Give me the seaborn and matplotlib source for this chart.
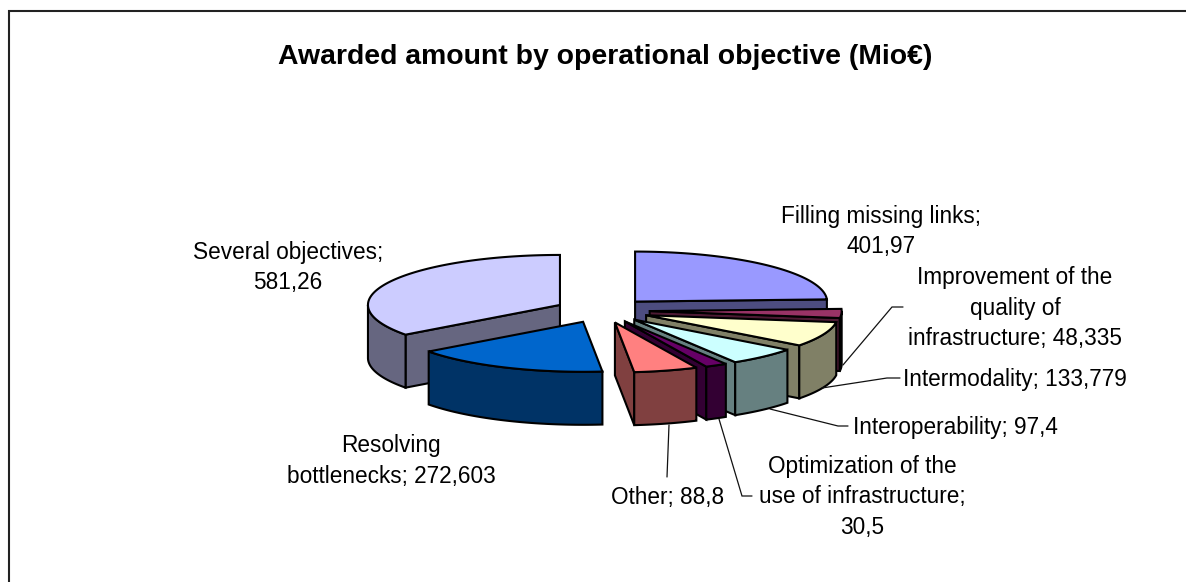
import numpy as np
import matplotlib
matplotlib.use("Agg")
import matplotlib.pyplot as plt
import seaborn as sns

# ---- data ----
title = "Awarded amount by operational objective (Mio€)"
categories = ["Filling missing links", "Improvement of the quality of infrastructure",
              "Intermodality", "Interoperability",
              "Optimization of the use of infrastructure", "Other",
              "Resolving bottlenecks", "Several objectives"]
values = [401.97, 48.335, 133.779, 97.4, 30.5, 88.8, 272.603, 581.26]
value_labels = ["401,97", "48,335", "133,779", "97,4", "30,5", "88,8", "272,603", "581,26"]
top_colors = ["#9999FF", "#993366", "#FFFFCC", "#CCFFFF", "#660066", "#FF8080", "#0066CC", "#CCCCFF"]

# ---- label layout: wrapped lines, centre x, first-line y ----
label_lines = [
    ["Filling missing links;", "401,97"],
    ["Improvement of the", "quality of", "infrastructure; 48,335"],
    ["Intermodality; 133,779"],
    ["Interoperability; 97,4"],
    ["Optimization of the", "use of infrastructure;", "30,5"],
    ["Other; 88,8"],
    ["Resolving", "bottlenecks; 272,603"],
    ["Several objectives;", "581,26"],
]
label_x = [881, 1015, 1015, 955, 862, 668, 391, 288]
label_y = [214, 275, 377, 425, 464, 495, 443, 250]
leaders = [
    None,
    [(843, 365), (892, 307), (903, 307)],
    [(822, 388), (887, 378), (900, 378)],
    [(770, 409), (838, 426), (848, 426)],
    [(719, 419), (742, 496), (752, 496)],
    [(669, 425), (667, 477)],
    None, None,
]

# ---- pie geometry ----
CX, CY, RX, RY, DEPTH, EXPLODE = 602.3, 310.5, 192, 50, 53, 0.247
draw_order = [7, 0, 1, 2, 3, 4, 5, 6]

sns.set_theme(style="white")
plt.rcParams["font.family"] = ["Liberation Sans", "DejaVu Sans"]
palette = sns.color_palette(top_colors)
TXT = "#000000"

fig, ax = plt.subplots(figsize=(11.86, 5.82), dpi=100)
fig.subplots_adjust(0, 0, 1, 1)
ax.set_xlim(0, 1186)
ax.set_ylim(582, 0)
ax.axis("off")

# chart frame (runs off right and bottom of the picture)
ax.plot([8.5, 8.5, 1186], [582, 11, 11], color="#222222", lw=1.5, solid_joinstyle="miter", clip_on=False)

edges = np.cumsum([0] + values) / sum(values) * 360.0


def pt(ax0, ay0, deg):
    a = np.radians(deg)
    return ax0 + RX * np.sin(a), ay0 - RY * np.cos(a)


def poly(xs, ys, color):
    ax.fill(xs, ys, facecolor=color, edgecolor="black", lw=1.5, joinstyle="miter")


for i in draw_order:
    a0, a1 = edges[i], edges[i + 1]
    mid = np.radians((a0 + a1) / 2)
    x0 = CX + EXPLODE * RX * np.sin(mid)
    y0 = CY - EXPLODE * RY * np.cos(mid)
    top = palette[i]
    side = tuple(c * 0.5 for c in top)

    # visible cut faces
    for ang, visible in ((a0, np.sin(np.radians(a0)) < -1e-6), (a1, np.sin(np.radians(a1)) > 1e-6)):
        if visible:
            xe, ye = pt(x0, y0, ang)
            poly([x0, xe, xe, x0], [y0, ye, ye + DEPTH, y0 + DEPTH], side)

    # outer wall: only the front half of the rim
    w0, w1 = max(a0, 90), min(a1, 270)
    if w1 > w0:
        th = np.linspace(w0, w1, 60)
        xs, ys = pt(x0, y0, th)
        poly(np.r_[xs, xs[::-1]], np.r_[ys, ys[::-1] + DEPTH], side)

    # top face
    th = np.linspace(a0, a1, 120)
    xs, ys = pt(x0, y0, th)
    poly(np.r_[x0, xs], np.r_[y0, ys], top)

# leader lines
for path in leaders:
    if path:
        ax.plot(*zip(*path), color="#111111", lw=0.9, solid_joinstyle="miter")

# labels
SPACING = 30.5
for lines, x, y in zip(label_lines, label_x, label_y):
    for k, line in enumerate(lines):
        ax.text(x, y + k * SPACING, line, ha="center", va="center_baseline", fontsize=16.3, color=TXT)

ax.text(605, 54, title, ha="center", va="center_baseline", fontsize=20.4, fontweight="bold", color=TXT)

fig.savefig("out.png", dpi=100)
